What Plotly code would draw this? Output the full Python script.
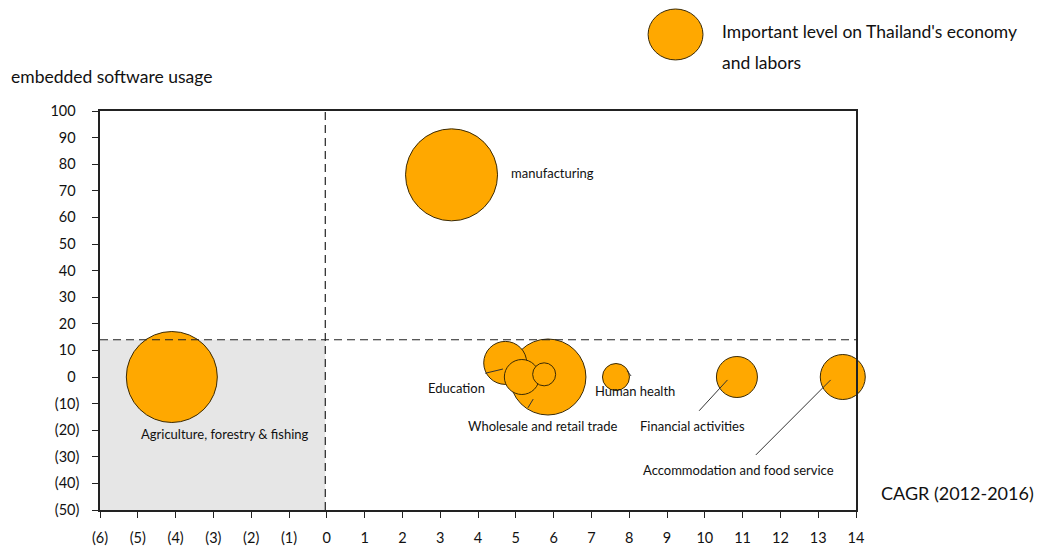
import plotly.graph_objects as go

# ---------------- data ----------------
sectors = ["manufacturing", "Agriculture, forestry & fishing", "Wholesale and retail trade",
           "Education", "Other sector 1", "Other sector 2", "Human health",
           "Financial activities", "Accommodation and food service"]
cagr = [3.3, -4.1, 5.85, 4.72, 5.16, 5.75, 7.65, 10.85, 13.65]
usage = [76, 0, 0, 5.3, 0, 1, 0, 0, 0]
importance = [92, 91, 76, 43, 35, 23, 27, 41, 45]

x_ticks = list(range(-6, 15))
x_labels = [f"({abs(v)})" if v < 0 else str(v) for v in x_ticks]
y_ticks = list(range(-50, 101, 10))
y_labels = [f"({abs(v)})" if v < 0 else f"{v}\u00a0" for v in y_ticks]

x_split = -0.04
y_split = 14

# label placements (text anchor points, data coords) and leader lines
label_pos = {
    "manufacturing": (4.82, 76.7),
    "Agriculture, forestry & fishing": (-4.97, -21.4),
    "Education": (2.62, -4.0),
    "Wholesale and retail trade": (3.67, -18.4),
    "Human health": (7.04, -5.3),
    "Financial activities": (8.23, -18.4),
    "Accommodation and food service": (8.3, -35.0),
}
leaders = [
    ((4.19, 1.4), (4.66, 3.0)),
    ((5.32, -11.6), (5.46, -8.3)),
    ((7.94, 2.3), (8.05, 0.4)),
    ((9.85, -12.7), (10.6, -1.1)),
    ((11.35, -29.3), (13.33, -1.1)),
]

FONT = "Lato, 'Open Sans', sans-serif"
ORANGE = "#FFA800"
EDGE = "#3a2a05"
TXT = "#111111"

fig = go.Figure()
fig.add_trace(go.Scatter(
    x=cagr, y=usage, mode="markers", text=sectors, hoverinfo="text",
    marker=dict(size=importance, sizemode="diameter", sizeref=1,
                color=ORANGE, opacity=1, line=dict(color=EDGE, width=1)),
    cliponaxis=False, showlegend=False,
))

shapes = [
    dict(type="rect", xref="x", yref="y", x0=-6, x1=x_split, y0=-50, y1=y_split,
         fillcolor="#e6e6e6", line=dict(width=0), layer="below"),
    dict(type="line", xref="x", yref="y", x0=-6, x1=14, y0=y_split, y1=y_split,
         line=dict(color="#222222", width=1.2, dash="8px,5px"), layer="above"),
    dict(type="line", xref="x", yref="y", x0=x_split, x1=x_split, y0=-50, y1=100,
         line=dict(color="#222222", width=1.2, dash="8px,5px"), layer="above"),
    # legend bubble
    dict(type="circle", xref="paper", yref="paper", x0=0.725, x1=0.7976, y0=1.128, y1=1.2556,
         fillcolor=ORANGE, line=dict(color=EDGE, width=1)),
]
for (a, b) in leaders:
    shapes.append(dict(type="line", xref="x", yref="y", x0=a[0], y0=a[1], x1=b[0], y1=b[1],
                       line=dict(color="#333333", width=1)))

annotations = []
for name, (lx, ly) in label_pos.items():
    annotations.append(dict(x=lx, y=ly, xref="x", yref="y", text=name, showarrow=False,
                            xanchor="left", yanchor="middle",
                            font=dict(family=FONT, size=13, color=TXT)))
annotations += [
    dict(x=-0.121, y=1.0877, xref="paper", yref="paper", text="embedded software usage",
         showarrow=False, xanchor="left", yanchor="middle",
         font=dict(family=FONT, size=17.5, color=TXT)),
    dict(x=1.031, y=0.0426, xref="paper", yref="paper", text="CAGR (2012-2016)",
         showarrow=False, xanchor="left", yanchor="middle",
         font=dict(family=FONT, size=18, color=TXT)),
    dict(x=0.8201, y=1.2005, xref="paper", yref="paper", text="Important level on Thailand's economy",
         showarrow=False, xanchor="left", yanchor="middle",
         font=dict(family=FONT, size=17.5, color=TXT)),
    dict(x=0.8201, y=1.1228, xref="paper", yref="paper", text="and labors",
         showarrow=False, xanchor="left", yanchor="middle",
         font=dict(family=FONT, size=17.5, color=TXT)),
]

fig.update_layout(
    width=1039, height=550,
    margin=dict(l=100, r=183, t=111, b=40, pad=0, autoexpand=False),
    paper_bgcolor="white", plot_bgcolor="white",
    font=dict(family=FONT, size=14, color=TXT),
    shapes=shapes, annotations=annotations, showlegend=False,
)
fig.update_xaxes(
    range=[-6, 14], tickmode="array", tickvals=x_ticks, ticktext=x_labels, automargin=False,
    showgrid=False, zeroline=False, showline=True, linecolor="#222222", linewidth=1.5,
    mirror=True, ticks="outside", ticklen=6, tickcolor="#222222", tickwidth=1.2,
    ticklabelstandoff=8, tickfont=dict(family=FONT, size=14.5, color=TXT),
)
fig.update_yaxes(
    range=[-50, 100], tickmode="array", tickvals=y_ticks, ticktext=y_labels, automargin=False,
    showgrid=False, zeroline=False, showline=True, linecolor="#222222", linewidth=1.5,
    mirror=True, ticks="outside", ticklen=6, tickcolor="#222222", tickwidth=1.2,
    ticklabelstandoff=10, tickfont=dict(family=FONT, size=14.5, color=TXT),
)

fig.write_html("out.html")
